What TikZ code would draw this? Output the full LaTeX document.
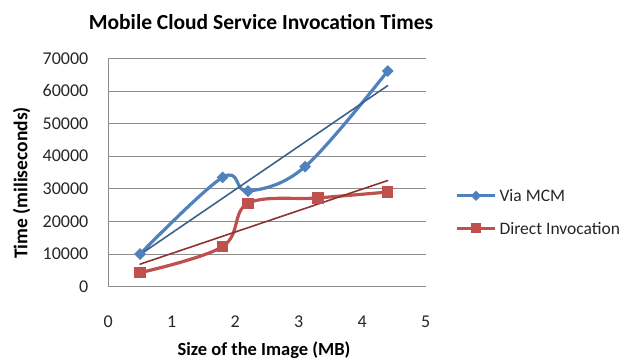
\documentclass[tikz,border=0pt]{standalone}
\usepackage{fontspec}
\setmainfont{Carlito}
\usetikzlibrary{shapes.geometric}
\definecolor{serA}{HTML}{4F81BD}
\definecolor{serB}{HTML}{C0504D}
\definecolor{trA}{HTML}{3A6290}
\definecolor{trB}{HTML}{8E3330}
\definecolor{gridc}{HTML}{8C8C8C}
\tikzset{
  gridline/.style={draw=gridc, line width=0.8pt},
  serline/.style={line width=3.2pt, line cap=round, line join=round},
  trend/.style={line width=1.6pt, line cap=round},
  dmark/.style={diamond, fill=serA, inner sep=0pt, minimum width=12pt, minimum height=12pt},
  smark/.style={rectangle, fill=serB, inner sep=0pt, minimum size=11.5pt},
  ticklab/.style={font=\fontsize{18}{20}\selectfont, text=black!85},
  legtext/.style={font=\fontsize{17.5}{20}\selectfont, text=black!85, anchor=west},
}
\begin{document}
\begin{tikzpicture}[x=1pt,y=1pt]
\useasboundingbox (0,0) rectangle (627,364);
\node (title) at (261,342) {\fontsize{21.5}{24}\selectfont\bfseries Mobile Cloud Service Invocation Times};
\node[rotate=90] (ylab) at (21.7,181) {\fontsize{19.5}{22}\selectfont\bfseries Time (miliseconds)};
\node (xlab) at (264,14) {\fontsize{18.5}{22}\selectfont\bfseries Size of the Image (MB)};
\begin{scope}[shift={(108.3,77.3)}, x=63.5pt, y=32.63pt]
  % grid
  \foreach \k in {0,...,7} {
    \draw[gridline] (0,\k) -- (5,\k);
  }
  \foreach \k in {1,...,7} {
    \node[ticklab, anchor=east] (yt\k) at (-0.26,\k) {\k0000};
  }
  \node[ticklab, anchor=east] (yt0) at (-0.26,0) {0};
  \draw[gridline] (0,0) -- (0,7);
  \foreach \k in {0,...,5} {
    \node[ticklab] (xt\k) at (\k,-1.08) {\k};
  }
  % data coordinates
  \coordinate (a1) at (0.5,1.0);
  \coordinate (a2) at (1.8,3.35);
  \coordinate (a3) at (2.2,2.93);
  \coordinate (a4) at (3.1,3.68);
  \coordinate (a5) at (4.4,6.61);
  \coordinate (b1) at (0.5,0.43);
  \coordinate (b2) at (1.8,1.23);
  \coordinate (b3) at (2.2,2.555);
  \coordinate (b4) at (3.3,2.72);
  \coordinate (b5) at (4.4,2.90);
  \coordinate (ta1) at (0.5,0.983);
  \coordinate (ta2) at (4.4,6.162);
  \coordinate (tb1) at (0.5,0.691);
  \coordinate (tb2) at (4.4,3.254);
  % series
  \draw[serline, serA] plot[smooth, tension=0.6] coordinates {(a1) (a2) (a3) (a4) (a5)};
  \draw[serline, serB] plot[smooth, tension=0.6] coordinates {(b1) (b2) (b3) (b4) (b5)};
  % trendlines
  \draw[trend, trA] (ta1) -- (ta2);
  \draw[trend, trB] (tb1) -- (tb2);
  % markers
  \foreach \i in {1,...,5} {
    \node[dmark] (ma\i) at (a\i) {};
    \node[smark] (mb\i) at (b\i) {};
  }
\end{scope}
% legend
\coordinate (la1) at (457,168.3);
\coordinate (la2) at (495,168.3);
\coordinate (lb1) at (457,135.7);
\coordinate (lb2) at (495,135.7);
\draw[serline, serA, line cap=butt] (la1) -- (la2);
\draw[serline, serB, line cap=butt] (lb1) -- (lb2);
\node[dmark, minimum width=10.5pt, minimum height=10.5pt] (lma) at (476,168.3) {};
\node[smark, minimum size=10pt] (lmb) at (476,135.7) {};
\node[legtext] (legA) at (496,168.3) {Via MCM};
\node[legtext] (legB) at (496,135.7) {Direct Invocation};
\end{tikzpicture}
\end{document}
